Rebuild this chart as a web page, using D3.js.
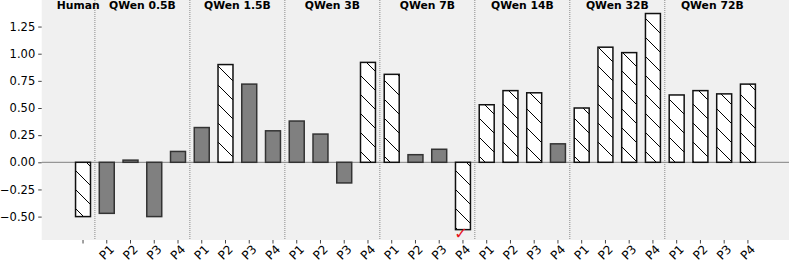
<!DOCTYPE html>
<html><head><meta charset="utf-8">
<script src="https://cdn.jsdelivr.net/npm/d3@7/dist/d3.min.js"></script>
<style>
html,body{margin:0;padding:0;background:#fff;}
svg{display:block;font-family:"DejaVu Sans",sans-serif;}
</style></head>
<body>
<script>
// ---- data ----
const groups = ["Human","QWen 0.5B","QWen 1.5B","QWen 3B","QWen 7B","QWen 14B","QWen 32B","QWen 72B"];
const tickLabels = ["","P1","P2","P3","P4","P1","P2","P3","P4","P1","P2","P3","P4","P1","P2","P3","P4",
                    "P1","P2","P3","P4","P1","P2","P3","P4","P1","P2","P3","P4"];
const values = [-0.50,
  -0.47, 0.02, -0.50, 0.10,
   0.32, 0.90, 0.72, 0.29,
   0.38, 0.26, -0.19, 0.92,
   0.81, 0.07, 0.12, -0.62,
   0.53, 0.66, 0.64, 0.17,
   0.50, 1.06, 1.01, 1.37,
   0.62, 0.66, 0.63, 0.72];
// 1 = hatched (white) bar, 0 = solid grey bar
const hatched = [1,
  0,0,0,0,
  0,1,0,0,
  0,0,0,1,
  1,0,0,1,
  1,1,1,0,
  1,1,1,1,
  1,1,1,1];
const yTicks = [-0.50,-0.25,0.00,0.25,0.50,0.75,1.00,1.25];
const checkIndex = 16;

// ---- layout ----
const W = 789, H = 262;
const svg = d3.select("body").append("svg").attr("width", W).attr("height", H);
const x = d3.scaleLinear().domain([-1.74, 29.73]).range([41.7, 789]);
const y = d3.scaleLinear().domain([-0.7155, 1.4945]).range([240, 0]);
const barW = x(0.63) - x(0);

const P = 19;
const defs = svg.append("defs");
const pat = defs.append("pattern").attr("id","hatch").attr("patternUnits","userSpaceOnUse")
  .attr("width",P).attr("height",P);
pat.append("rect").attr("width",P).attr("height",P).attr("fill","#fff");
pat.append("path").attr("d",`M-2,-2 L${P+2},${P+2} M${-P-2},-2 L2,${P+2} M${P-2},-2 L${2*P+2},${P+2}`)
  .attr("stroke","#000").attr("stroke-width",1);

// background
svg.append("rect").attr("x",x.range()[0]).attr("y",0).attr("width",W - x.range()[0]).attr("height",240)
  .attr("fill","#f0f0f0");

// group separators
const seps = d3.range(groups.length - 1).map(i => i === 0 ? 0.5 : 4*i + 0.5);
svg.selectAll("line.sep").data(seps).enter().append("line")
  .attr("x1", d => x(d)).attr("x2", d => x(d)).attr("y1",0).attr("y2",240)
  .attr("stroke","#8a8a8a").attr("stroke-width",1).attr("stroke-dasharray","1,1");

// zero line
svg.append("line").attr("x1",x.range()[0]).attr("x2",W).attr("y1",y(0)).attr("y2",y(0))
  .attr("stroke","#808080").attr("stroke-width",1);

// bars
svg.selectAll("rect.bar").data(values).enter().append("rect")
  .attr("x", (d,i) => x(i) - barW/2)
  .attr("y", d => y(Math.max(0,d)))
  .attr("width", barW)
  .attr("height", d => Math.abs(y(d) - y(0)))
  .attr("fill", (d,i) => hatched[i] ? "url(#hatch)" : "#808080")
  .attr("stroke", (d,i) => hatched[i] ? "#111" : "#333")
  .attr("stroke-width", 1.5);

// group titles
const titlePos = groups.map((g,i) => i === 0 ? -0.2 : 4*(i-1) + 2.5);
svg.selectAll("text.title").data(groups).enter().append("text")
  .attr("x",(d,i) => x(titlePos[i])).attr("y",9)
  .attr("text-anchor","middle").attr("font-size","10.8px").attr("font-weight","bold")
  .attr("fill","#000").text(d => d);

// y axis
const yAxis = d3.axisLeft(y).tickValues(yTicks).tickSize(3.5).tickPadding(3)
  .tickFormat(d => d3.format(".2f")(d));
const gy = svg.append("g").attr("transform",`translate(${x.range()[0]},0)`).call(yAxis);
gy.select(".domain").remove();
gy.selectAll("text").attr("font-size","11.5px").attr("font-family","DejaVu Sans").attr("fill","#000");
gy.selectAll("line").attr("stroke","#444");

// x axis
const idx = d3.range(tickLabels.length);
const gx = svg.append("g");
gx.selectAll("line").data(idx).enter().append("line")
  .attr("x1", i => x(i)).attr("x2", i => x(i)).attr("y1",240).attr("y2",243.5)
  .attr("stroke","#444");
gx.selectAll("text").data(idx).enter().append("text")
  .attr("transform", i => `translate(${x(i)},252.5) rotate(-45)`)
  .attr("text-anchor","middle").attr("dominant-baseline","central")
  .attr("font-size","12px").attr("fill","#000")
  .text(i => tickLabels[i]);

// check mark
svg.append("text").attr("x", x(checkIndex) - 2).attr("y", 239)
  .attr("text-anchor","middle").attr("font-size","16px").attr("font-weight","bold").attr("fill","#e8141b")
  .text("\u2713");
</script>
</body></html>
